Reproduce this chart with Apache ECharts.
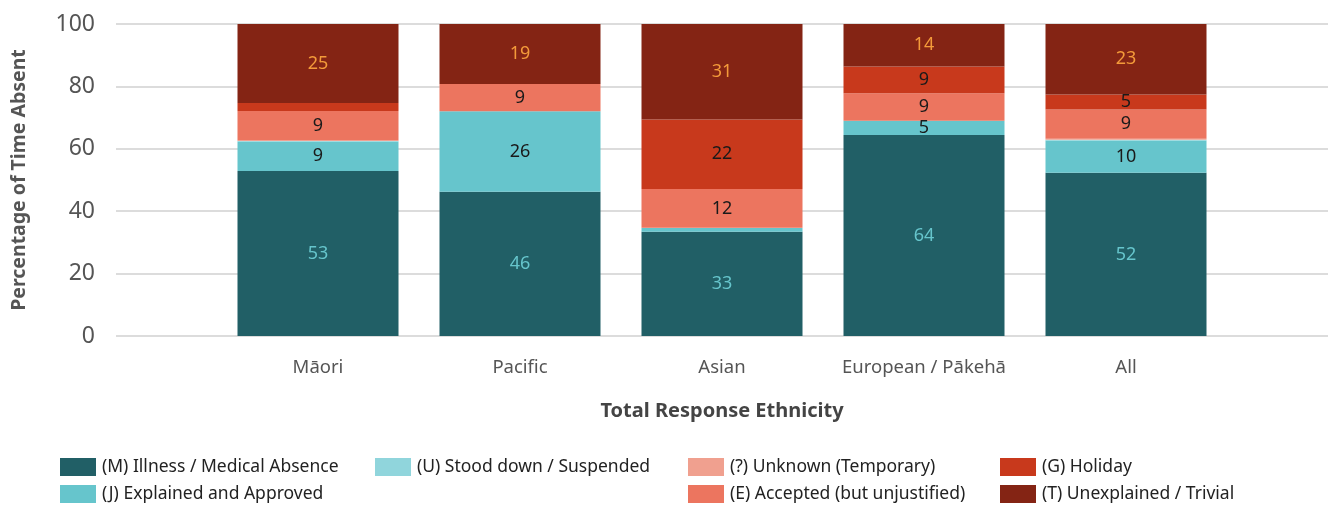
<!DOCTYPE html>
<html lang="en" style="height:100%">
<head>
    <meta charset="UTF-8">
    <title>Percentage of Time Absent</title>
</head>
<body style="height: 100%; margin: 0">
<div id="container" style="width:1328px; height:505px"></div>
<script type="text/javascript" src="https://cdn.jsdelivr.net/npm/echarts@6/dist/echarts.min.js"></script>
<script type="text/javascript">

    // categories (blank slots at both ends pad the axis)
    var ethnicities = ['Māori', 'Pacific', 'Asian', 'European / Pākehā', 'All'];

    // percentage of time absent, by absence code
    var illness    = [52.9, 46.2, 33.4, 64.4, 52.3];
    var explained  = [9.4, 25.8, 1.2, 4.6, 10.4];
    var stoodDown  = [0.2, 0, 0, 0, 0.2];
    var unknown    = [0.2, 0, 0.1, 0, 0.3];
    var accepted   = [9.4, 8.8, 12.4, 8.8, 9.4];
    var holiday    = [2.6, 0, 22.3, 8.6, 4.8];
    var unexplained = [25.3, 19.2, 30.6, 13.6, 22.6];

    var yTicks = [0, 20, 40, 60, 80, 100];

    var pad = function (arr) {
        return ['-'].concat(arr).concat(['-']);
    };

    var font = "'Noto Sans', 'Open Sans', sans-serif";

    var mkSeries = function (name, data, color, labelColor) {
        return {
            name: name,
            type: 'bar',
            stack: 'total',
            barWidth: 161,
            data: pad(data),
            itemStyle: { color: color },
            label: {
                show: true,
                position: 'inside',
                color: labelColor || '#1a1a1a',
                fontSize: 18,
                fontFamily: font,
                formatter: function (p) {
                    return p.value >= 4 ? Math.round(p.value) : '';
                }
            }
        };
    };

    // one legend per column so items stack top-to-bottom like the original
    var legendBase = function (left, names) {
        return {
            orient: 'vertical',
            left: left,
            top: 458,
            height: 50,
            padding: 0,
            itemWidth: 36,
            itemHeight: 18,
            itemGap: 9,
            icon: 'rect',
            data: names,
            textStyle: { fontSize: 17.5, color: '#222', fontFamily: font, padding: [0, 0, 0, 1] }
        };
    };

    var myChart = echarts.init(document.getElementById('container'));
    var option = {
        backgroundColor: '#fff',
        animation: false,
        legend: [
            legendBase(60, ['(M) Illness / Medical Absence', '(J) Explained and Approved']),
            legendBase(375, ['(U) Stood down / Suspended']),
            legendBase(688, ['(?) Unknown (Temporary)', '(E) Accepted (but unjustified)']),
            legendBase(1000, ['(G) Holiday', '(T) Unexplained / Trivial'])
        ],
        grid: { left: 116, right: 0, top: 24, bottom: 169, outerBoundsMode: 'none' },
        xAxis: {
            type: 'category',
            boundaryGap: false,
            data: [''].concat(ethnicities).concat(['']),
            name: 'Total Response Ethnicity',
            nameLocation: 'middle',
            nameGap: 65,
            nameTextStyle: { fontSize: 20, fontWeight: 'bold', color: '#444', fontFamily: font },
            axisLine: { show: false },
            axisTick: { show: false },
            axisLabel: { interval: 0, hideOverlap: false, fontSize: 18.5, color: '#555', margin: 22, fontFamily: font }
        },
        yAxis: {
            type: 'value',
            min: yTicks[0],
            max: yTicks[yTicks.length - 1],
            interval: 20,
            name: 'Percentage of Time Absent',
            nameLocation: 'middle',
            nameGap: 87,
            nameTextStyle: { fontSize: 19.5, fontWeight: 'bold', color: '#555', fontFamily: font },
            axisLabel: { fontSize: 23, color: '#555', margin: 21, fontFamily: font },
            splitLine: { lineStyle: { color: '#dcdcdc', width: 2 } }
        },
        series: [
            mkSeries('(M) Illness / Medical Absence', illness, '#215f66', '#66c5cc'),
            mkSeries('(J) Explained and Approved', explained, '#66c5cc'),
            mkSeries('(U) Stood down / Suspended', stoodDown, '#90d5dc'),
            mkSeries('(?) Unknown (Temporary)', unknown, '#f0a08f'),
            mkSeries('(E) Accepted (but unjustified)', accepted, '#ec755f'),
            mkSeries('(G) Holiday', holiday, '#c8391c'),
            mkSeries('(T) Unexplained / Trivial', unexplained, '#842414', '#f39a3a')
        ]
    };
    myChart.setOption(option, true);

</script>
</body>
</html>
